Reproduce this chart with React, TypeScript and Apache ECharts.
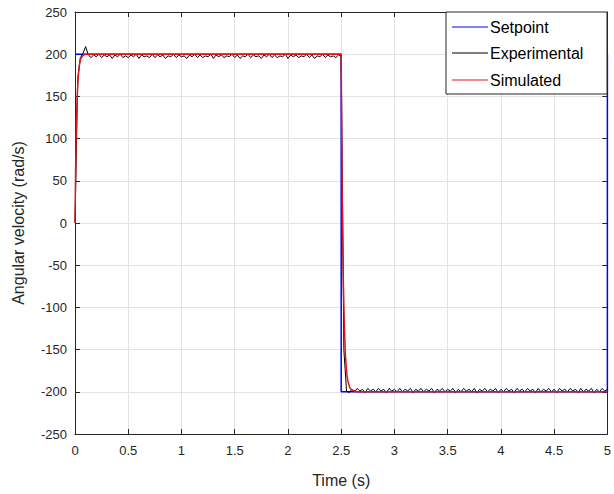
import React, { useEffect, useRef } from "react";
import * as echarts from "echarts";

// Setpoint (t, value)
const setpointT = [0, 2.5, 2.5, 5, 5];
const setpointV = [200, 200, -200, -200, 200];

// Simulated response (t, value)
const simT = [0, 0.005, 0.01, 0.015, 0.02, 0.03, 0.04, 0.05, 0.06, 0.08, 0.1, 2.5, 2.505, 2.51, 2.52, 2.53, 2.54, 2.55, 2.56, 2.58, 2.6, 2.65, 5];
const simV = [0, 57, 97, 126, 147, 173, 186, 193, 196, 199, 200, 200, 103, 29, -68, -124, -157, -175, -186, -195, -198, -200, -200];

// Experimental response, sampled every 0.025 s from 0 to 5 s
const expStep = 0.025;
const expV = [
  0, 170, 196, 201, 209, 199, 196, 199, 197, 200, 196, 199, 197, 199, 195, 199, 197, 200, 196, 198,
  196, 199, 197, 200, 195, 199, 197, 198, 196, 200, 196, 199, 197, 199, 195, 198, 197, 200, 196, 199,
  197, 198, 195, 199, 197, 200, 196, 199, 196, 198, 197, 200, 195, 199, 197, 199, 196, 198, 197, 200,
  196, 199, 195, 198, 197, 200, 196, 199, 197, 198, 195, 199, 197, 200, 196, 199, 196, 198, 197, 200,
  195, 199, 197, 199, 196, 198, 197, 200, 196, 199, 195, 198, 197, 200, 196, 199, 197, 198, 196, 199,
  198, -150, -199, -201, -197, -200, -196, -199, -197, -201, -196, -199, -197, -200, -196, -199, -197, -201, -196, -199,
  -197, -200, -196, -200, -197, -199, -196, -201, -197, -199, -196, -200, -197, -199, -196, -201, -197, -199, -196, -200,
  -197, -199, -196, -201, -197, -200, -196, -199, -197, -200, -196, -201, -197, -199, -196, -200, -197, -199, -196, -201,
  -197, -200, -196, -199, -197, -201, -196, -199, -197, -200, -196, -199, -197, -201, -196, -200, -197, -199, -196, -200,
  -197, -201, -196, -199, -197, -200, -196, -199, -197, -201, -196, -200, -197, -199, -196, -201, -197, -200, -196, -199,
  -197,
];

const legendNames = ["Setpoint", "Experimental", "Simulated"];
const colors = ["#0000ff", "#000000", "#e0141c"];

const xTicks = { min: 0, max: 5, interval: 0.5 };
const yTicks = { min: -250, max: 250, interval: 50 };

const FONT = "'Liberation Sans', Arial, sans-serif";
const AXIS_COLOR = "#262626";

export default function App() {
  const ref = useRef<HTMLDivElement>(null);
  useEffect(() => {
    if (!ref.current) return;
    document.body.style.margin = "0";
    const chart = echarts.init(ref.current, undefined, { renderer: "svg" });
    const sp = setpointT.map((t, i) => [t, setpointV[i]]);
    const sim = simT.map((t, i) => [t, simV[i]]);
    const exp = expV.map((v, i) => [Math.round(i * expStep * 1000) / 1000, v]);
    const boxAxis = {
      axisLine: { show: true, onZero: false, lineStyle: { color: AXIS_COLOR, width: 1 } },
      axisTick: { show: true, inside: true, length: 5, lineStyle: { color: AXIS_COLOR } },
      axisLabel: { show: false },
      splitLine: { show: false },
    };

    // Legend drawn as graphic elements
    const lgLeft = 446, lgTop = 12, lgW = 161, lgH = 82;
    const rowY = [27, 53, 80];
    const legendEls: any[] = [
      {
        type: "rect",
        shape: { x: lgLeft, y: lgTop, width: lgW, height: lgH },
        style: { fill: "#fff", stroke: AXIS_COLOR, lineWidth: 1 },
        z: 100,
      },
    ];
    legendNames.forEach((n, i) => {
      legendEls.push({
        type: "line",
        shape: { x1: 452, y1: rowY[i], x2: 488, y2: rowY[i] },
        style: { stroke: colors[i], lineWidth: 1 },
        z: 101,
      });
      legendEls.push({
        type: "text",
        x: 490,
        y: rowY[i],
        style: { text: n, fontSize: 16, fontFamily: FONT, fill: "#000", verticalAlign: "middle", align: "left" },
        z: 101,
      });
    });

    chart.setOption({
      animation: false,
      backgroundColor: "#fff",
      textStyle: { fontFamily: FONT },
      grid: { left: 75, right: 3, top: 12, bottom: 60, containLabel: false },
      graphic: legendEls,
      xAxis: [
        {
          type: "value",
          ...xTicks,
          name: "Time (s)",
          nameLocation: "middle",
          nameGap: 38,
          nameTextStyle: { fontSize: 16, color: AXIS_COLOR, fontFamily: FONT },
          axisLine: { show: true, onZero: false, lineStyle: { color: AXIS_COLOR, width: 1 } },
          axisTick: { show: true, inside: true, length: 5, lineStyle: { color: AXIS_COLOR } },
          axisLabel: { fontSize: 13, color: AXIS_COLOR, margin: 10, fontFamily: FONT },
          splitLine: { show: true, lineStyle: { color: "#e3e3e3", width: 1 } },
        },
        { type: "value", ...xTicks, position: "top", ...boxAxis },
      ],
      yAxis: [
        {
          type: "value",
          ...yTicks,
          name: "Angular velocity (rad/s)",
          nameLocation: "middle",
          nameGap: 49,
          nameTextStyle: { fontSize: 16, color: AXIS_COLOR, fontFamily: FONT },
          axisLine: { show: true, onZero: false, lineStyle: { color: AXIS_COLOR, width: 1 } },
          axisTick: { show: true, inside: true, length: 5, lineStyle: { color: AXIS_COLOR } },
          axisLabel: { fontSize: 13, color: AXIS_COLOR, margin: 8, fontFamily: FONT },
          splitLine: { show: true, lineStyle: { color: "#e3e3e3", width: 1 } },
        },
        { type: "value", ...yTicks, position: "right", ...boxAxis },
      ],
      series: [
        {
          name: legendNames[0],
          type: "line",
          data: sp,
          symbol: "none",
          lineStyle: { color: colors[0], width: 1.5 },
          itemStyle: { color: colors[0] },
        },
        {
          name: legendNames[1],
          type: "line",
          data: exp,
          symbol: "none",
          lineStyle: { color: colors[1], width: 1 },
          itemStyle: { color: colors[1] },
        },
        {
          name: legendNames[2],
          type: "line",
          data: sim,
          symbol: "none",
          lineStyle: { color: colors[2], width: 1.5 },
          itemStyle: { color: colors[2] },
        },
      ],
    });
    return () => chart.dispose();
  }, []);
  return <div ref={ref} style={{ width: 614, height: 494 }} />;
}
